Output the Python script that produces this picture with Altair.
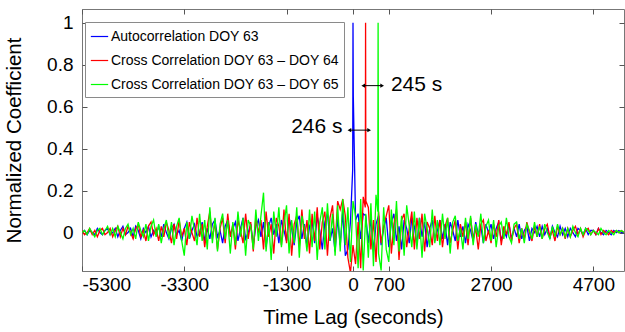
import altair as alt
import pandas as pd

# ---- data ----
lags = list(range(-5300, 5301, 50))

blue = [
    0.00, 0.01, -0.01, 0.01, 0.00, -0.01, 0.02, 0.00, -0.01, 0.01,
    0.02, -0.01, 0.00, 0.02, -0.02, 0.01, 0.03, -0.01, 0.00, 0.02,
    -0.02, 0.03, 0.01, -0.03, 0.02, 0.00, 0.03, -0.02, 0.01, -0.01,
    0.03, -0.02, 0.04, 0.00, -0.03, 0.02, 0.04, -0.01, 0.01, -0.04,
    0.02, 0.05, -0.03, 0.01, 0.04, -0.02, 0.00, 0.05, -0.04, 0.02,
    -0.03, 0.04, 0.06, -0.02, 0.01, -0.05, 0.03, 0.06, -0.01, 0.02,
    0.05, -0.04, 0.02, 0.07, -0.03, 0.00, 0.04, -0.06, 0.03, 0.06,
    -0.02, 0.05, -0.07, 0.03, 0.07, -0.01, 0.04, -0.05, 0.06, 0.01,
    -0.04, 0.07, 0.02, -0.06, 0.05, 0.08, -0.03, 0.04, -0.07, 0.03,
    0.06, -0.05, 0.08, 0.01, -0.08, 0.05, 0.09, -0.04, 0.02, -0.09,
    0.07, -0.06, 0.10, -0.11, -0.08, 0.05, 0.30, 0.06, 0.09, -0.03,
    0.09, 0.08, -0.05, 0.07, -0.09, 0.04, 0.08, -0.06, 0.02, 0.07,
    -0.07, 0.05, 0.09, -0.04, 0.03, -0.08, 0.06, 0.02, -0.05, 0.07,
    0.03, -0.06, 0.07, -0.02, 0.05, -0.07, 0.02, 0.06, -0.04, 0.01,
    0.06, -0.03, 0.04, -0.06, 0.05, 0.01, -0.04, 0.06, -0.02, 0.03,
    -0.05, 0.04, 0.01, -0.04, 0.05, -0.01, 0.03, -0.05, 0.04, 0.00,
    0.04, -0.03, 0.02, 0.05, -0.04, 0.01, -0.02, 0.04, -0.03, 0.02,
    -0.02, 0.04, -0.03, 0.01, 0.03, -0.04, 0.02, 0.00, 0.03, -0.02,
    0.03, -0.01, 0.02, -0.03, 0.03, 0.00, -0.02, 0.03, -0.01, 0.02,
    -0.02, 0.02, 0.00, -0.02, 0.02, 0.01, -0.01, 0.02, -0.01, 0.01,
    0.01, -0.01, 0.02, 0.00, -0.01, 0.01, 0.00, -0.01, 0.01, 0.00,
    0.01, 0.00, 0.00,
]

red = [
    0.01, -0.01, 0.00, 0.02, -0.01, 0.01, -0.02, 0.01, 0.02, -0.01,
    0.00, 0.02, -0.02, 0.01, 0.03, -0.02, 0.02, -0.01, 0.03, 0.00,
    -0.03, 0.02, 0.04, -0.02, 0.01, -0.04, 0.03, 0.05, -0.01, 0.02,
    -0.04, 0.03, -0.02, 0.05, 0.01, -0.05, 0.04, -0.03, 0.06, -0.02,
    0.02, -0.06, 0.05, 0.00, -0.04, 0.07, -0.02, 0.04, -0.07, 0.03,
    0.10, -0.03, 0.05, -0.08, 0.02, 0.07, -0.05, 0.09, -0.02, 0.04,
    -0.08, 0.06, 0.01, -0.05, 0.09, -0.03, 0.05, -0.09, 0.07, 0.00,
    0.06, -0.08, 0.10, -0.02, 0.04, -0.10, 0.07, 0.03, -0.06, 0.11,
    -0.05, 0.09, -0.11, 0.04, 0.08, -0.07, 0.11, -0.03, 0.06, -0.10,
    0.09, -0.04, 0.12, -0.08, 0.05, 0.10, -0.11, 0.07, 0.13, -0.06,
    0.15, 0.11, 0.16, 0.08, -0.12, -0.19, -0.06, -0.15, 0.05, -0.17,
    0.17, 0.14, 0.12, -0.08, 0.06, -0.14, 0.10, -0.05, 0.03, 0.08,
    0.13, -0.10, 0.04, 0.11, -0.13, 0.06, 0.09, -0.07, 0.02, 0.10,
    -0.08, 0.07, -0.03, 0.09, -0.09, 0.05, 0.02, -0.06, 0.08, -0.04,
    0.06, -0.07, 0.03, 0.07, -0.05, 0.01, 0.06, -0.08, 0.04, -0.02,
    0.05, -0.06, 0.07, -0.03, 0.02, -0.08, 0.04, 0.06, -0.04, 0.01,
    -0.05, 0.04, -0.02, 0.06, -0.06, 0.03, -0.01, 0.05, -0.04, 0.02,
    0.04, -0.05, 0.02, -0.03, 0.05, 0.00, -0.04, 0.03, -0.02, 0.04,
    -0.03, 0.02, 0.04, -0.02, 0.01, -0.04, 0.03, -0.01, 0.02, -0.03,
    0.02, -0.02, 0.01, 0.03, -0.01, 0.02, -0.02, 0.01, 0.02, -0.01,
    0.01, -0.01, 0.02, -0.01, 0.01, 0.00, -0.01, 0.01, 0.00, 0.01,
    0.00, 0.01, 0.00,
]

green = [
    0.00, 0.01, -0.01, 0.02, 0.00, -0.02, 0.01, 0.02, -0.01, 0.01,
    0.03, -0.01, 0.02, -0.02, 0.03, 0.00, -0.03, 0.02, 0.04, -0.01,
    0.02, -0.03, 0.05, 0.01, -0.02, 0.04, -0.04, 0.03, 0.06, -0.02,
    0.04, -0.05, 0.02, 0.06, -0.03, 0.05, -0.06, 0.03, 0.07, -0.04,
    -0.11, 0.05, -0.03, 0.08, 0.01, -0.06, 0.09, -0.04, 0.06, -0.08,
    0.12, -0.05, 0.07, -0.09, 0.04, 0.09, -0.03, 0.06, -0.10, 0.05,
    -0.06, 0.10, -0.02, 0.07, -0.11, 0.06, 0.03, -0.08, 0.11, -0.04,
    0.08, 0.19, -0.09, 0.05, -0.13, 0.10, -0.02, 0.12, -0.07, 0.04,
    0.13, -0.10, 0.06, -0.05, 0.12, -0.12, 0.08, 0.02, -0.09, 0.11,
    -0.07, 0.10, -0.13, 0.05, 0.12, -0.08, 0.14, -0.04, 0.09, -0.11,
    0.13, -0.09, 0.16, -0.06, 0.12, -0.14, 0.15, 0.08, -0.17, 0.16,
    -0.18, 0.09, -0.12, 0.14, -0.16, 0.18, -0.10, -0.18, 0.12, -0.08,
    -0.14, 0.11, -0.06, 0.15, -0.09, 0.08, -0.11, 0.13, 0.03, -0.07,
    0.10, -0.08, 0.07, -0.12, 0.09, 0.02, -0.07, 0.11, -0.05, 0.06,
    -0.06, 0.09, -0.03, 0.07, -0.10, 0.05, 0.08, -0.04, 0.02, -0.08,
    0.07, -0.03, 0.08, -0.06, 0.04, -0.02, 0.09, -0.05, 0.03, 0.06,
    -0.04, 0.06, -0.07, 0.03, 0.05, -0.03, 0.07, -0.02, -0.05, 0.04,
    0.05, -0.03, 0.02, -0.05, 0.04, 0.01, -0.03, 0.05, -0.02, 0.03,
    -0.03, 0.04, 0.00, -0.03, 0.03, -0.02, 0.04, -0.01, 0.02, -0.02,
    0.02, -0.02, 0.03, 0.00, -0.02, 0.02, -0.01, 0.02, 0.01, -0.01,
    0.01, 0.00, -0.01, 0.02, 0.00, -0.01, 0.01, 0.00, -0.01, 0.01,
    0.00, 0.01, 0.00,
]

series_names = [
    "Autocorrelation DOY 63",
    "Cross Correlation DOY 63 \u2013 DOY 64",
    "Cross Correlation DOY 63 \u2013 DOY 65",
]
series_colors = ["#0000FF", "#FF0000", "#00FF00"]
series_values = [blue, red, green]

# correlation peaks and the samples right beside them
peak_lags = [0, 246, 491]
peak_values = [1.0, 1.0, 1.0]
peak_before = [0.30, 0.12, 0.10]
peak_after = [0.65, 0.15, 0.16]
peak_gap = 6

# annotations
arrow_start = [-70, 200]
arrow_end = [316, 570]
arrow_level = [0.488, 0.70]
label_texts = ["246 s", "245 s"]
label_lags = [-205, 742]
label_levels = [0.505, 0.703]
label_aligns = ["right", "left"]

x_ticks = [-5300, -3300, -1300, 0, 700, 2700, 4700]
y_ticks = [0, 0.2, 0.4, 0.6, 0.8, 1]

for v in series_values:
    assert len(v) == len(lags), len(v)

rows = []
for name, vals, pk, pv, pb, pa in zip(series_names, series_values, peak_lags,
                                      peak_values, peak_before, peak_after):
    for lg, v in zip(lags, vals):
        if abs(lg - pk) > peak_gap:
            rows.append({"series": name, "lag": lg, "coef": v})
    rows.append({"series": name, "lag": pk - peak_gap, "coef": pb})
    rows.append({"series": name, "lag": pk, "coef": pv})
    rows.append({"series": name, "lag": pk + peak_gap, "coef": pa})
df = pd.DataFrame(rows).sort_values(["series", "lag"])

arrows = pd.DataFrame({"x1": arrow_start, "x2": arrow_end, "y": arrow_level})
heads = pd.DataFrame({
    "x": arrow_start + arrow_end,
    "y": arrow_level + arrow_level,
    "shape": ["triangle-left"] * len(arrow_start) + ["triangle-right"] * len(arrow_end),
})
labels = pd.DataFrame({"t": label_texts, "x": label_lags, "y": label_levels, "a": label_aligns})

FONT = "Liberation Sans"
xscale = alt.Scale(domain=[-5300, 5300], nice=False, zero=False)
yscale = alt.Scale(domain=[-0.183, 1.065], nice=False, zero=False)
cscale = alt.Scale(domain=series_names, range=series_colors)

legend = alt.Legend(
    title=None, orient="none", legendX=3, legendY=13,
    strokeColor="#8a8a8a", fillColor="white", padding=5,
    symbolType="stroke", symbolSize=300, symbolStrokeWidth=1.2,
    labelFont=FONT, labelFontSize=14, labelColor="#000000",
    labelLimit=500, labelOffset=2, rowPadding=7, cornerRadius=0,
)

x_bottom = alt.Axis(
    orient="bottom", values=x_ticks, labelExpr="'' + datum.value",
    offset=-5, tickSize=5, tickColor="#555555", domain=False, grid=False,
    labelFont=FONT, labelFontSize=19, labelColor="#000000", labelPadding=4,
    title="Time Lag (seconds)", titleFont=FONT, titleFontSize=20.5,
    titleFontWeight="normal", titleColor="#000000", titlePadding=13,
)
y_left = alt.Axis(
    orient="left", values=y_ticks, format="~g",
    offset=-5, tickSize=5, tickColor="#555555", domain=False, grid=False,
    labelFont=FONT, labelFontSize=19, labelColor="#000000", labelPadding=9,
    title="Normalized Coefficient", titleFont=FONT, titleFontSize=20.5,
    titleFontWeight="normal", titleColor="#000000", titlePadding=22,
)
x_top = alt.Axis(orient="top", values=x_ticks, offset=-5, tickSize=5,
                 tickColor="#555555", domain=False, grid=False, labels=False, title=None)
y_right = alt.Axis(orient="right", values=y_ticks, offset=-5, tickSize=5,
                   tickColor="#555555", domain=False, grid=False, labels=False, title=None)

layers = []
for i, name in enumerate(series_names):
    xa = x_bottom if i == 0 else None
    ya = y_left if i == 0 else None
    layers.append(
        alt.Chart(df[df["series"] == name])
        .mark_line(strokeWidth=1.3, clip=True)
        .encode(
            x=alt.X("lag:Q", scale=xscale, axis=xa),
            y=alt.Y("coef:Q", scale=yscale, axis=ya),
            color=alt.Color("series:N", scale=cscale, legend=legend),
            order="lag:Q",
        )
    )

ghost = alt.Chart(heads).mark_point(opacity=0).encode(
    x=alt.X("x:Q", scale=xscale, axis=x_top),
    y=alt.Y("y:Q", scale=yscale, axis=y_right),
)

arrow_lines = alt.Chart(arrows).mark_rule(color="black", strokeWidth=1).encode(
    x=alt.X("x1:Q", scale=xscale, axis=None),
    x2="x2:Q",
    y=alt.Y("y:Q", scale=yscale, axis=None),
)
arrow_heads = alt.Chart(heads).mark_point(filled=True, color="black", size=18, opacity=1).encode(
    x=alt.X("x:Q", scale=xscale, axis=None),
    y=alt.Y("y:Q", scale=yscale, axis=None),
    shape=alt.Shape("shape:N", scale=None, legend=None),
)
label_left = alt.Chart(labels[labels["a"] == "right"]).mark_text(
    font=FONT, fontSize=21, color="black", align="right", baseline="middle"
).encode(x=alt.X("x:Q", scale=xscale, axis=None), y=alt.Y("y:Q", scale=yscale, axis=None), text="t:N")
label_right = alt.Chart(labels[labels["a"] == "left"]).mark_text(
    font=FONT, fontSize=21, color="black", align="left", baseline="middle"
).encode(x=alt.X("x:Q", scale=xscale, axis=None), y=alt.Y("y:Q", scale=yscale, axis=None), text="t:N")

chart = (
    alt.layer(*layers, ghost, arrow_lines, arrow_heads, label_left, label_right)
    .properties(
        width=542, height=262,
        autosize=alt.AutoSizeParams(type="none"),
        padding={"left": 82, "top": 9, "right": 1, "bottom": 61},
        background="white",
    )
    .configure_view(stroke="#777777", strokeWidth=1)
)

chart.save("out.html", embed_options={"renderer": "svg", "actions": False})
